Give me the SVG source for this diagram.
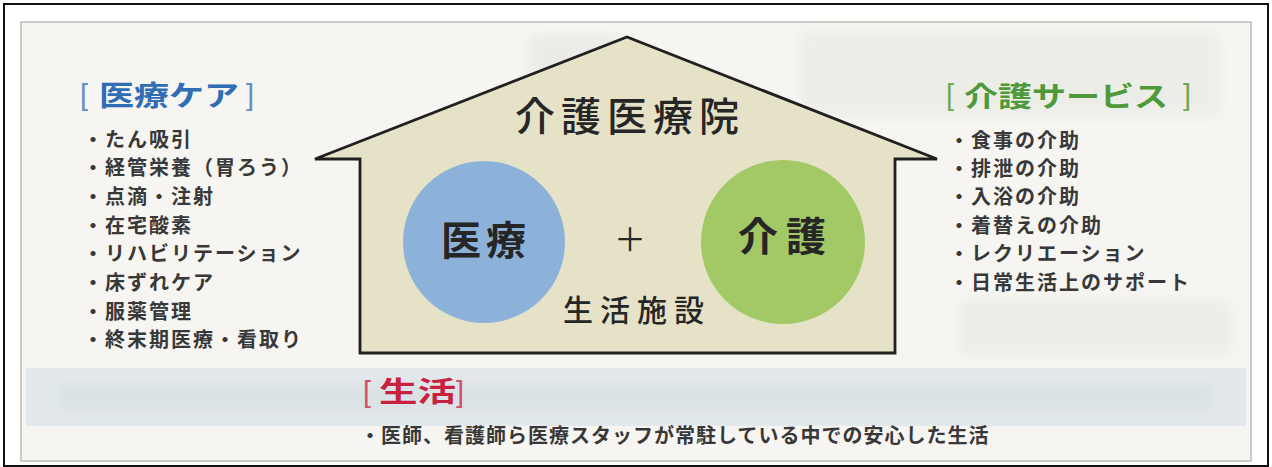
<svg xmlns="http://www.w3.org/2000/svg" width="1272" height="467" viewBox="0 0 1272 467">
  <style>
    .item { font-family: "Noto Sans CJK JP", "Noto Sans CJK SC", sans-serif; font-size: 20px; font-weight: 700; fill: #383838; letter-spacing: 2px; }
    .hdr { font-family: "Noto Sans CJK JP", "Noto Sans CJK SC", sans-serif; font-size: 28px; font-weight: 700; }
    .br { font-family: "Liberation Sans", Arial, sans-serif; font-size: 29px; font-weight: 400; }
    .big { font-family: "Noto Sans CJK JP", "Noto Sans CJK SC", sans-serif; fill: #262626; }
  </style>
  <defs>
    <filter id="soft" x="-10%" y="-10%" width="120%" height="120%">
      <feGaussianBlur stdDeviation="6"/>
    </filter>
  </defs>

  <!-- outer frame and panel -->
  <g id="background">
    <rect x="0" y="0" width="1272" height="467" fill="#ffffff"/>
    <rect x="4" y="4" width="1264" height="462" fill="#ffffff" stroke="#111111" stroke-width="2"/>
    <rect x="21" y="22" width="1230" height="439" fill="#f6f5f1" stroke="#bdbdb7" stroke-width="1.5"/>
    <!-- faint show-through band and blotches -->
    <rect x="26" y="368" width="1220" height="58" fill="#e2e8eb"/>
    <g filter="url(#soft)" opacity="0.5">
      <rect x="60" y="384" width="1150" height="26" fill="#d3dbe0"/>
      <rect x="530" y="35" width="90" height="70" fill="#e3e3de"/>
      <rect x="800" y="32" width="420" height="85" fill="#e6e6e1"/>
      <rect x="960" y="300" width="270" height="55" fill="#e3e4e0"/>
    </g>
  </g>

  <!-- house -->
  <g id="house">
    <polygon points="360,353 360,159 315,159 627,37 937,159 895,159 895,353" fill="#e5e2c7" stroke="#202020" stroke-width="2.8" stroke-linejoin="miter"/>
    <text class="big" x="515" y="131" font-size="40" font-weight="500" textLength="224" lengthAdjust="spacing">介護医療院</text>
    <text class="big" x="563" y="321" font-size="30" font-weight="500" textLength="141" lengthAdjust="spacing">生活施設</text>
    <text class="big" x="630" y="251" font-size="32" font-weight="400" text-anchor="middle">＋</text>
  </g>

  <g id="node-iryo">
    <circle cx="484" cy="242" r="81" fill="#8db2da"/>
    <text class="big" x="441" y="255" font-size="40" font-weight="700" textLength="85" lengthAdjust="spacing">医療</text>
  </g>

  <g id="node-kaigo">
    <circle cx="783" cy="242" r="82" fill="#a3c866"/>
    <text class="big" x="738" y="251" font-size="40" font-weight="700" textLength="88" lengthAdjust="spacing">介護</text>
  </g>

  <!-- left list -->
  <g id="list-medical">
    <text class="br" x="80" y="105" fill="#5f8fc8">[</text>
    <text class="hdr" x="99" y="106" fill="#2f6db4" textLength="140" lengthAdjust="spacingAndGlyphs">医療ケア</text>
    <text class="br" x="246" y="105" fill="#5f8fc8">]</text>
    <text class="item" x="83" y="146.5">・たん吸引</text>
    <text class="item" x="83" y="175.2">・経管栄養（胃ろう）</text>
    <text class="item" x="83" y="203.9">・点滴・注射</text>
    <text class="item" x="83" y="232.6">・在宅酸素</text>
    <text class="item" x="83" y="261.3">・リハビリテーション</text>
    <text class="item" x="83" y="290">・床ずれケア</text>
    <text class="item" x="83" y="318.7">・服薬管理</text>
    <text class="item" x="83" y="347.4">・終末期医療・看取り</text>
  </g>

  <!-- right list -->
  <g id="list-care">
    <text class="br" x="946" y="105" fill="#6fa855">[</text>
    <text class="hdr" x="964" y="106.5" fill="#4e9a3a" textLength="204" lengthAdjust="spacingAndGlyphs">介護サービス</text>
    <text class="br" x="1183" y="105" fill="#6fa855">]</text>
    <text class="item" x="949" y="147.5">・食事の介助</text>
    <text class="item" x="949" y="175.9">・排泄の介助</text>
    <text class="item" x="949" y="204.3">・入浴の介助</text>
    <text class="item" x="949" y="232.7">・着替えの介助</text>
    <text class="item" x="949" y="261.1">・レクリエーション</text>
    <text class="item" x="949" y="289.5">・日常生活上のサポート</text>
  </g>

  <!-- bottom -->
  <g id="life">
    <text class="br" x="363" y="402" fill="#d2506a">[</text>
    <text class="hdr" x="379" y="402" fill="#c8213f" textLength="77" lengthAdjust="spacingAndGlyphs">生活</text>
    <text class="br" x="456" y="402" fill="#d2506a">]</text>
    <text class="item" x="360" y="443" style="letter-spacing:1px">・医師、看護師ら医療スタッフが常駐している中での安心した生活</text>
  </g>

  <g id="connectors"/>
</svg>
